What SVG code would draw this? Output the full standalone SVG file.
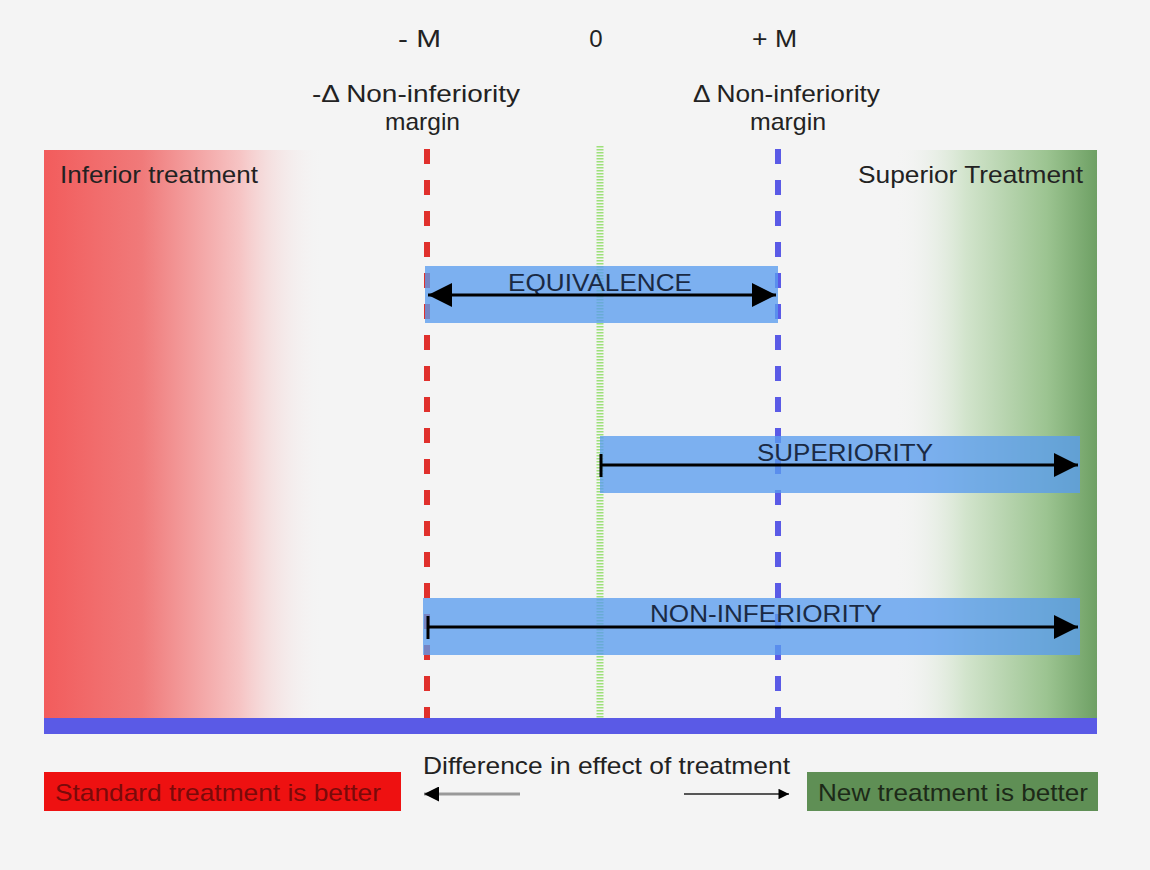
<svg xmlns="http://www.w3.org/2000/svg" width="1150" height="870" viewBox="0 0 1150 870">
<defs>
<linearGradient id="gRed" x1="0" y1="0" x2="1" y2="0">
<stop offset="0" stop-color="#f25c5c"/>
<stop offset="0.35" stop-color="#f07a7a"/>
<stop offset="0.7" stop-color="#f6c4c4"/>
<stop offset="1" stop-color="#f4f4f4" stop-opacity="0"/>
</linearGradient>
<linearGradient id="gGreen" x1="0" y1="0" x2="1" y2="0">
<stop offset="0" stop-color="#f4f4f4" stop-opacity="0"/>
<stop offset="0.35" stop-color="#d2e4cc"/>
<stop offset="0.75" stop-color="#9cc491"/>
<stop offset="1" stop-color="#6ea064"/>
</linearGradient>
<marker id="ah" viewBox="0 0 10 10" refX="10" refY="5" markerWidth="6" markerHeight="5" markerUnits="strokeWidth" orient="auto-start-reverse">
<path d="M0,0 L10,5 L0,10 z" fill="#000"/>
</marker>
<marker id="ahr" viewBox="0 0 10 10" refX="10" refY="5" markerWidth="13" markerHeight="7" markerUnits="strokeWidth" orient="auto-start-reverse">
<path d="M0,0 L10,5 L0,10 z" fill="#000"/>
</marker>
<marker id="ahs" viewBox="0 0 10 10" refX="10" refY="5" markerWidth="12" markerHeight="8" markerUnits="strokeWidth" orient="auto-start-reverse">
<path d="M0,0 L10,5 L0,10 z" fill="#000"/>
</marker>
<style>
text{font-family:"Liberation Sans",Arial,sans-serif;fill:#222}
.lbl{font-size:24px}
.box{fill:#5a9cee;fill-opacity:0.78}
.btxt{font-size:24px;fill:#1a2a44}
.arrow{stroke:#000;stroke-width:3;fill:none}
</style>
</defs>
<rect width="1150" height="870" fill="#f4f4f4"/>

<g id="inferior-zone">
<rect x="44" y="150" width="280" height="568" fill="url(#gRed)"/>
<text class="lbl" x="60" y="183" textLength="198" lengthAdjust="spacingAndGlyphs">Inferior treatment</text>
</g>
<g id="superior-zone">
<rect x="895" y="150" width="202" height="568" fill="url(#gGreen)"/>
<text class="lbl" x="858" y="183" textLength="225" lengthAdjust="spacingAndGlyphs">Superior Treatment</text>
</g>

<g id="axis-labels">
<text class="lbl" x="398" y="47" textLength="43" lengthAdjust="spacingAndGlyphs">- M</text>
<text class="lbl" x="596" y="47" text-anchor="middle">0</text>
<text class="lbl" x="752" y="47" textLength="45" lengthAdjust="spacingAndGlyphs">+ M</text>
<text class="lbl" x="312" y="102" textLength="208" lengthAdjust="spacingAndGlyphs">-Δ Non-inferiority</text>
<text class="lbl" x="385" y="130" textLength="75" lengthAdjust="spacingAndGlyphs">margin</text>
<text class="lbl" x="693" y="102" textLength="187" lengthAdjust="spacingAndGlyphs">Δ Non-inferiority</text>
<text class="lbl" x="750" y="130" textLength="76" lengthAdjust="spacingAndGlyphs">margin</text>
</g>

<g id="margin-lines">
<line x1="427" y1="149" x2="427" y2="718" stroke="#e0302c" stroke-width="6" stroke-dasharray="15,16"/>
<line x1="778" y1="149" x2="778" y2="718" stroke="#5a5ae6" stroke-width="6" stroke-dasharray="15,16"/>
<line x1="600" y1="146" x2="600" y2="718" stroke="#9ee07a" stroke-width="7" stroke-dasharray="1.5,1.5"/>
</g>

<g id="equivalence">
<rect class="box" x="425" y="266" width="353" height="57"/>
<text class="btxt" x="508" y="291" textLength="184" lengthAdjust="spacingAndGlyphs">EQUIVALENCE</text>
</g>
<g id="superiority">
<rect class="box" x="600" y="436" width="480" height="57"/>
<text class="btxt" x="757" y="461" textLength="176" lengthAdjust="spacingAndGlyphs">SUPERIORITY</text>
</g>
<g id="non-inferiority">
<rect class="box" x="423" y="598" width="657" height="57"/>
<text class="btxt" x="650" y="622" textLength="232" lengthAdjust="spacingAndGlyphs">NON-INFERIORITY</text>
</g>

<g id="connectors">
<line class="arrow" x1="428" y1="295" x2="776" y2="295" marker-start="url(#ahs)" marker-end="url(#ahs)"/>
<line class="arrow" x1="601" y1="465" x2="1078" y2="465" marker-end="url(#ahs)"/>
<line x1="601" y1="454" x2="601" y2="477" stroke="#000" stroke-width="3"/>
<line class="arrow" x1="428" y1="627" x2="1078" y2="627" marker-end="url(#ahs)"/>
<line x1="428" y1="616" x2="428" y2="639" stroke="#000" stroke-width="3"/>
<line x1="520" y1="794" x2="424" y2="794" stroke="#999" stroke-width="3" marker-end="url(#ah)"/>
<line x1="684" y1="794" x2="789" y2="794" stroke="#222" stroke-width="1.5" marker-end="url(#ahr)"/>
</g>

<g id="baseline">
<rect x="44" y="718" width="1053" height="16" fill="#5a5ae6"/>
<text class="lbl" x="423" y="774" textLength="367" lengthAdjust="spacingAndGlyphs">Difference in effect of treatment</text>
</g>

<g id="standard-better">
<rect x="44" y="772" width="357" height="39" fill="#ee1111"/>
<text class="lbl" x="55" y="801" textLength="326" lengthAdjust="spacingAndGlyphs" style="fill:#7a0a0a">Standard treatment is better</text>
</g>
<g id="new-better">
<rect x="807" y="772" width="291" height="39" fill="#5f8f55"/>
<text class="lbl" x="818" y="801" textLength="270" lengthAdjust="spacingAndGlyphs" style="fill:#1d2a18">New treatment is better</text>
</g>
</svg>
